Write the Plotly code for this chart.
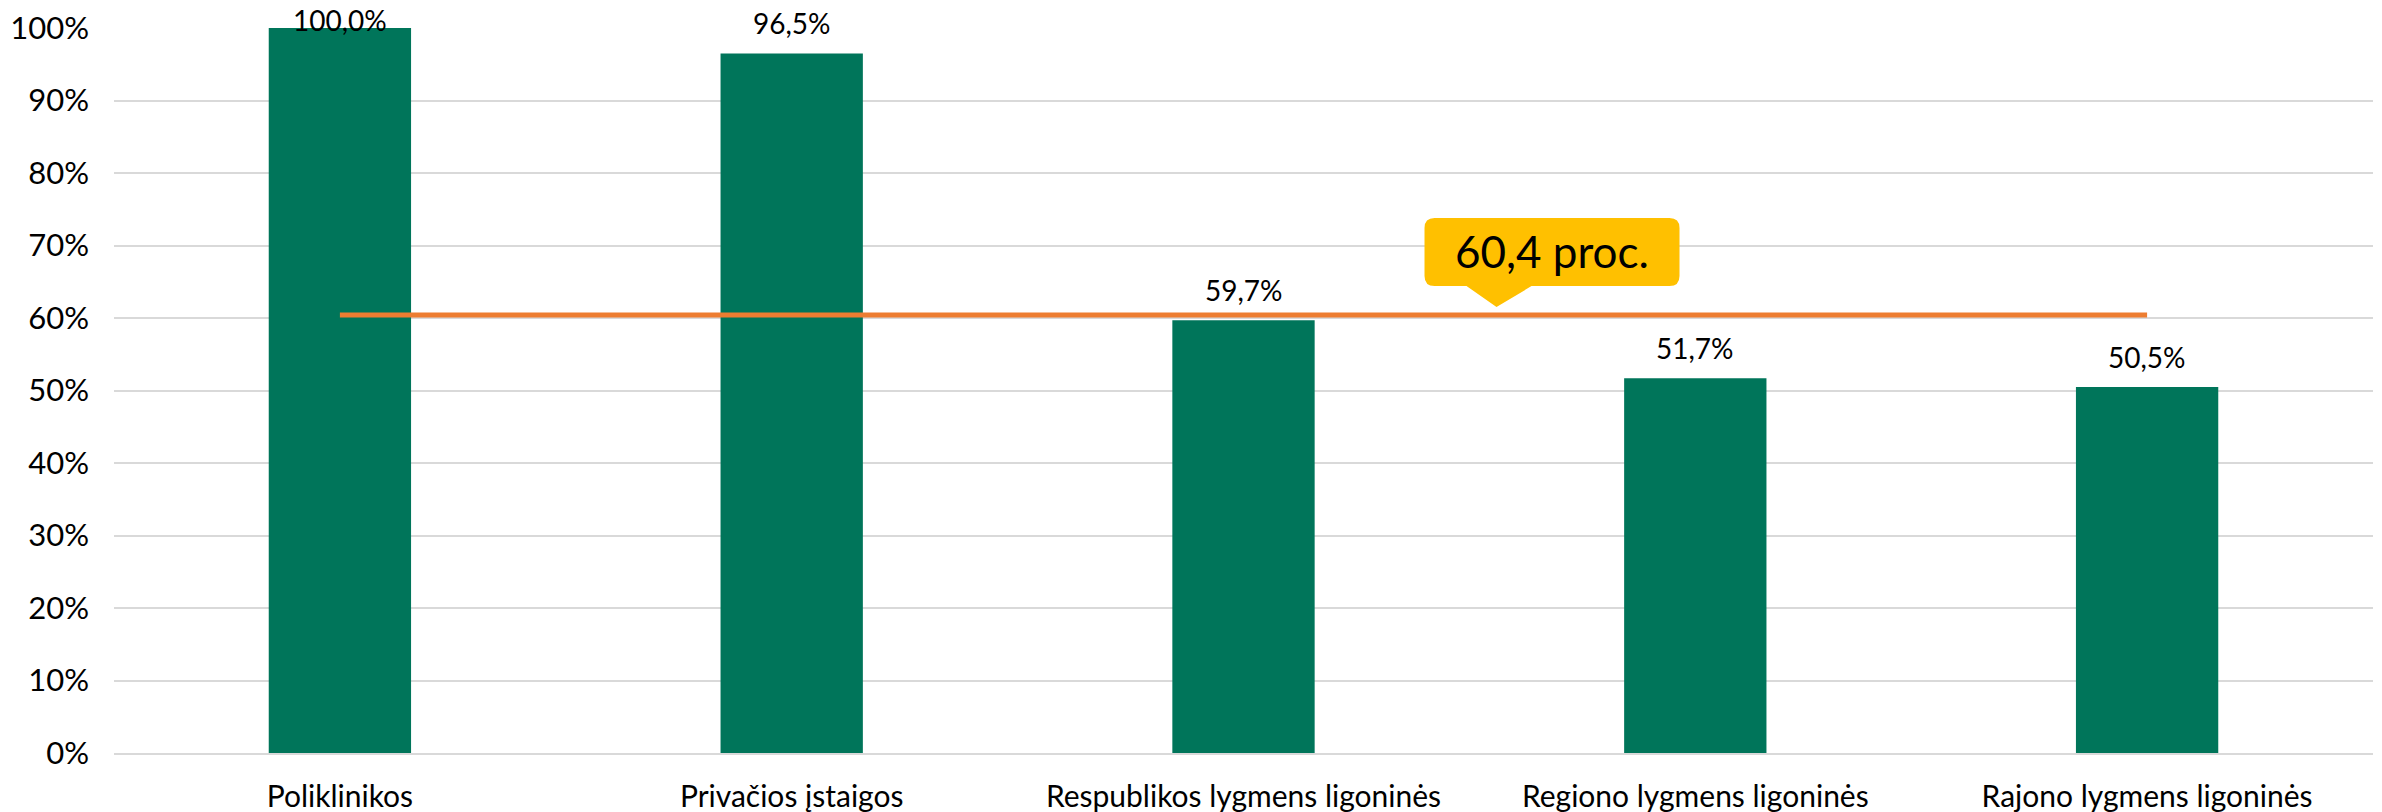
import plotly.graph_objects as go

categories = ["Poliklinikos", "Privačios įstaigos", "Respublikos lygmens ligoninės",
              "Regiono lygmens ligoninės", "Rajono lygmens ligoninės"]
values = [100.0, 96.5, 59.7, 51.7, 50.5]
average = 60.4
y_ticks = [0, 10, 20, 30, 40, 50, 60, 70, 80, 90, 100]
y_tick_labels = [f"{t}%" for t in y_ticks]

FONT = "Lato"
BAR = "#00755A"
ORANGE = "#ED7D31"
GOLD = "#FFC000"

fig = go.Figure()
fig.add_trace(go.Bar(x=categories, y=values, marker=dict(color=BAR, line=dict(width=0)),
                     width=0.315, hoverinfo="skip"))
fig.add_trace(go.Scatter(x=[categories[0], categories[-1]], y=[average, average], mode="lines",
                         line=dict(color=ORANGE, width=5), hoverinfo="skip"))

def fmt(v):
    return f"{v:.1f}".replace(".", ",")

for c, v in zip(categories, values):
    fig.add_annotation(x=c, y=v, xref="x", yref="y", text=fmt(v) + "%", showarrow=False,
                       yanchor="middle", yshift=8 if v >= 99 else 30,
                       font=dict(family=FONT, size=28, color="#000000"))

# callout (rounded box + pointer) in pixel units anchored at the average line
tipx = 0.612
r = 10
L, R, B, T = -72, 183, 29, 97
path = (f"M 0,8 L -30,{B} L {L + r},{B} Q {L},{B} {L},{B + r} L {L},{T - r} Q {L},{T} {L + r},{T} "
        f"L {R - r},{T} Q {R},{T} {R},{T - r} L {R},{B + r} Q {R},{B} {R - r},{B} L 35,{B} Z")
fig.add_shape(type="path", xref="paper", yref="y", xsizemode="pixel", ysizemode="pixel",
              xanchor=tipx, yanchor=average, path=path, fillcolor=GOLD, line=dict(width=0),
              layer="above")
fig.add_annotation(x=tipx, y=average, xref="paper", yref="y", text=fmt(average) + " proc.",
                   showarrow=False, xshift=(L + R) / 2, yshift=(B + T) / 2 + 1,
                   font=dict(family=FONT, size=44, color="#000000"))

fig.update_layout(
    width=2382, height=812,
    margin=dict(l=114, r=9, t=28, b=59, autoexpand=False),
    plot_bgcolor="white", paper_bgcolor="white",
    showlegend=False, bargap=0.685,
    font=dict(family=FONT, size=30, color="#000000"),
)
fig.update_xaxes(showgrid=False, showline=True, linecolor="#D9D9D9", linewidth=2,
                 ticks="", tickfont=dict(size=30), ticklabelstandoff=16, automargin=False)
fig.update_yaxes(range=[0, 100], tickvals=y_ticks, ticktext=y_tick_labels, showgrid=True,
                 gridcolor="#D9D9D9", gridwidth=1.5, zeroline=False, showline=False,
                 ticks="", tickfont=dict(size=31), ticklabelstandoff=24, automargin=False)

fig.write_html("out.html", config={"displayModeBar": False},
               post_script="document.body.style.margin='0';")
